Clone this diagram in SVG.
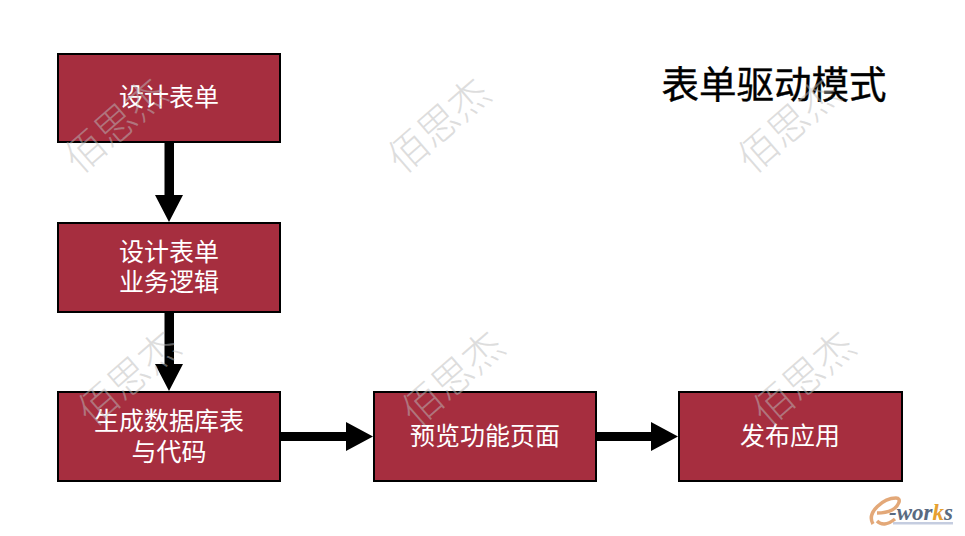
<svg xmlns="http://www.w3.org/2000/svg" width="965" height="536" viewBox="0 0 965 536">
<style>
.box{fill:#a62e3f;stroke:#000;stroke-width:2}
.t{font-family:"Liberation Sans","Noto Sans CJK SC",sans-serif;font-size:25px;fill:#fff;text-anchor:middle}
.title{font-family:"Liberation Sans","Noto Sans CJK SC",sans-serif;font-size:37.500px;fill:#000;stroke:#000;stroke-width:.4;text-anchor:middle}
.wm{font-family:"Noto Sans CJK SC",sans-serif;font-size:40px;font-weight:300;fill:#bbb;fill-opacity:.5;text-anchor:middle}
.c{fill:#000;stroke:none}
</style>
<rect width="965" height="536" fill="#fff"/>
<g id="n1"><rect class="box" x="58" y="54" width="222" height="88"/><text class="t" x="169" y="105.500">设计表单</text></g>
<g id="n2"><rect class="box" x="58" y="223" width="222" height="89"/><text class="t" x="169" y="260.500">设计表单</text><text class="t" x="169" y="290.500">业务逻辑</text></g>
<g id="n3"><rect class="box" x="58" y="392" width="222" height="89"/><text class="t" x="169" y="429.500">生成数据库表</text><text class="t" x="169" y="460.500">与代码</text></g>
<g id="n4"><rect class="box" x="374" y="392" width="222" height="89"/><text class="t" x="485" y="444.500">预览功能页面</text></g>
<g id="n5"><rect class="box" x="679" y="392" width="223" height="89"/><text class="t" x="790" y="444.500">发布应用</text></g>
<g id="connectors">
<path class="c" d="M164.500 143H174V195H183L169 222L155 195H164.500Z"/>
<path class="c" d="M164.500 313H174V364H183L169 391L155 364H164.500Z"/>
<path class="c" d="M281 432H346V422L373 436.500L346 451V441H281Z"/>
<path class="c" d="M597 432H651V422L678 436.500L651 451V441H597Z"/>
</g>
<text class="title" x="774" y="98">表单驱动模式</text>
<g id="watermarks">
<text class="wm" transform="translate(125,136) rotate(-41)">佰思杰</text>
<text class="wm" transform="translate(448,136) rotate(-41)">佰思杰</text>
<text class="wm" transform="translate(798,136) rotate(-41)">佰思杰</text>
<text class="wm" transform="translate(138,389) rotate(-41)">佰思杰</text>
<text class="wm" transform="translate(462,389) rotate(-41)">佰思杰</text>
<text class="wm" transform="translate(813,389) rotate(-41)">佰思杰</text>
</g>
<g id="logo">
<path d="M873 524C866 512 884 498 896 498C902 498 899 506 892 510C886 513 881 513 877 513M877 521C882 526 889 524 895 519" fill="none" stroke="#e3a878" stroke-width="3.500"/>
<rect x="893" y="522" width="60" height="2.500" fill="#c5cde0"/>
<text x="889" y="520" font-family="Liberation Serif,serif" font-size="23" font-weight="bold" font-style="italic" fill="#5a6a80">-wor<tspan fill="#e6a030">k</tspan><tspan fill="#5a6a80">s</tspan></text>
</g>
</svg>
